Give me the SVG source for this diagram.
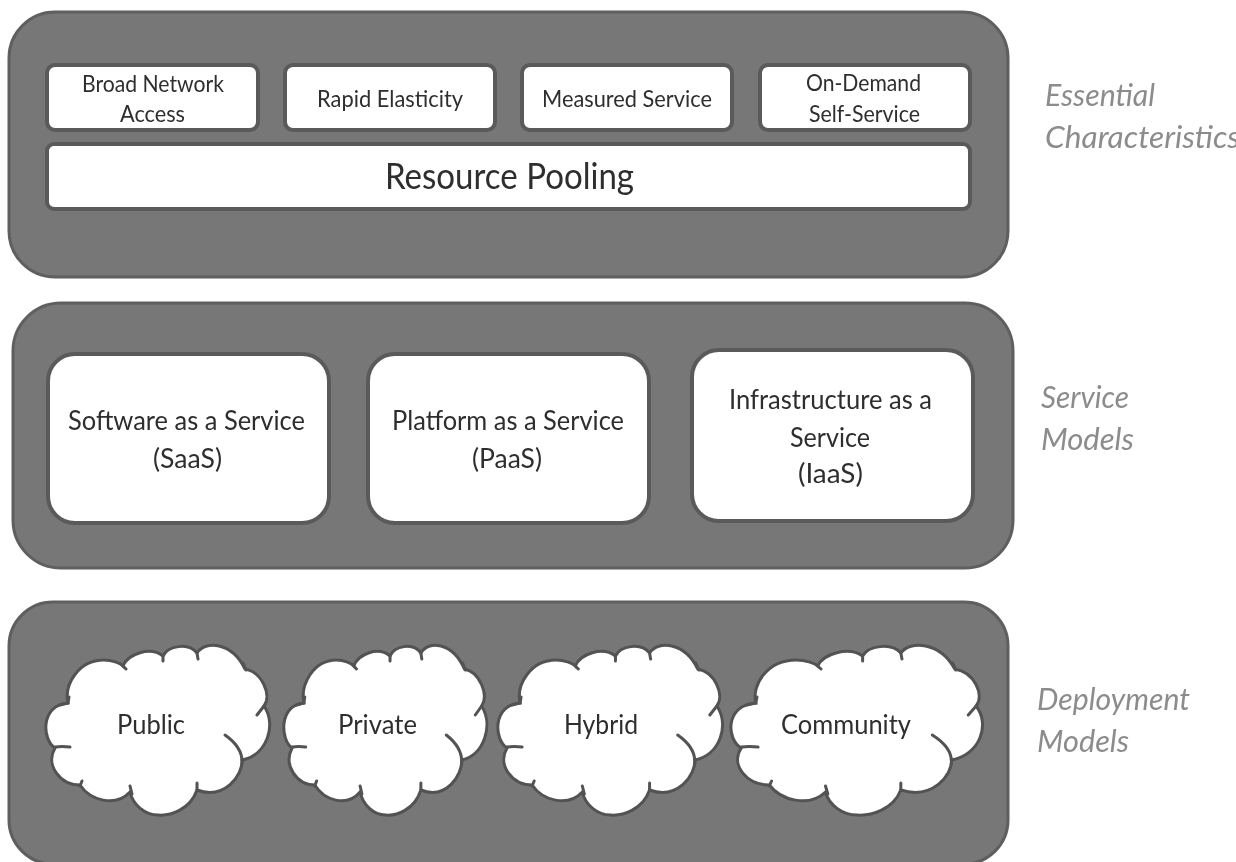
<svg xmlns="http://www.w3.org/2000/svg" xmlns:xlink="http://www.w3.org/1999/xlink" width="1236" height="862" viewBox="0 0 1236 862">
<style>
text{font-family:Lato,"Open Sans","Liberation Sans",sans-serif;text-anchor:start;fill:#2e2e2e}
.panel{fill:#777;stroke:#5f5f5f;stroke-width:3}
.box{fill:#fff;stroke:#5a5a5a;stroke-width:4}
.cl{fill:#fff;stroke:#525252;stroke-width:3;vector-effect:non-scaling-stroke}
.tail{fill:none;stroke:#525252;stroke-width:3;stroke-linecap:round;vector-effect:non-scaling-stroke}
.s{font-size:23px}.m{font-size:27px}.l{font-size:36px}.c{font-size:27px}
.side{font-size:30px;font-style:italic;fill:#8c8c8c}
.soft{filter:url(#soft)}
</style>
<defs>
<filter id="soft" filterUnits="userSpaceOnUse" x="0" y="0" width="1236" height="862"><feGaussianBlur stdDeviation="0.6"/></filter>
<g id="cloud">
<path class="cl" d="M68 703C64 685 78 660 104 660C112 660 120 663 123 666C128 654 150 646 163 656C168 646 188 642 197 653C205 640 232 642 245 669C262 672 272 695 264 706C277 725 267 755 242 760C243 775 225 800 197 790C190 810 170 816 158 815C145 815 133 805 130 792C115 808 90 800 80 785C60 785 45 765 55 748C42 740 40 705 68 703Z"/>
<path class="tail" d="M60 705L68 703L69 697M55 747Q62 746 70 747M123 666L126 669M163 656V661M197 653L198 659M243 663L246 670M264 706L257 715M225 735C235 742 243 752 242 764M197 783V790M130 786L132 794M82 781L80 786"/>
</g>
</defs>
<rect width="1236" height="862" fill="#fff"/>
<g class="soft">
<g id="panel-essential">
<rect class="panel" x="9" y="12" width="999" height="265" rx="46"/>
<g id="broad-network-access"><rect class="box" x="47" y="65" width="211" height="65" rx="8"/><text class="s" x="82" y="92" textLength="142" lengthAdjust="spacingAndGlyphs">Broad Network</text><text class="s" x="120" y="122" textLength="65" lengthAdjust="spacingAndGlyphs">Access</text></g>
<g id="rapid-elasticity"><rect class="box" x="285" y="65" width="210" height="65" rx="8"/><text class="s" x="317" y="107" textLength="146" lengthAdjust="spacingAndGlyphs">Rapid Elasticity</text></g>
<g id="measured-service"><rect class="box" x="522" y="65" width="210" height="65" rx="8"/><text class="s" x="542" y="107" textLength="170" lengthAdjust="spacingAndGlyphs">Measured Service</text></g>
<g id="on-demand"><rect class="box" x="760" y="65" width="210" height="65" rx="8"/><text class="s" x="806" y="91" textLength="115" lengthAdjust="spacingAndGlyphs">On-Demand</text><text class="s" x="809" y="122" textLength="111" lengthAdjust="spacingAndGlyphs">Self-Service</text></g>
<g id="resource-pooling"><rect class="box" x="47" y="144" width="923" height="65" rx="7"/><text class="l" x="385" y="189" textLength="249" lengthAdjust="spacingAndGlyphs">Resource Pooling</text></g>
</g>
<g id="panel-service">
<rect class="panel" x="13" y="303" width="1000" height="265" rx="48"/>
<g id="saas"><rect class="box" x="48" y="354" width="281" height="169" rx="27"/><text class="m" x="68" y="430" textLength="237" lengthAdjust="spacingAndGlyphs">Software as a Service</text><text class="m" x="153" y="468" textLength="69" lengthAdjust="spacingAndGlyphs">(SaaS)</text></g>
<g id="paas"><rect class="box" x="368" y="354" width="281" height="169" rx="27"/><text class="m" x="392" y="430" textLength="232" lengthAdjust="spacingAndGlyphs">Platform as a Service</text><text class="m" x="472" y="468" textLength="70" lengthAdjust="spacingAndGlyphs">(PaaS)</text></g>
<g id="iaas"><rect class="box" x="692" y="350" width="281" height="171" rx="27"/><text class="m" x="729" y="409" textLength="203" lengthAdjust="spacingAndGlyphs">Infrastructure as a</text><text class="m" x="790" y="447" textLength="80" lengthAdjust="spacingAndGlyphs">Service</text><text class="m" x="798" y="483" textLength="65" lengthAdjust="spacingAndGlyphs">(IaaS)</text></g>
</g>
<g id="panel-deployment">
<rect class="panel" x="9" y="602" width="999" height="262" rx="44"/>
<g id="public"><use xlink:href="#cloud" href="#cloud"/><text class="c" x="117" y="734" textLength="68" lengthAdjust="spacingAndGlyphs">Public</text></g>
<g id="private"><use xlink:href="#cloud" href="#cloud" transform="translate(242.2 0) scale(.907 1)"/><text class="c" x="338" y="734" textLength="79" lengthAdjust="spacingAndGlyphs">Private</text></g>
<g id="hybrid"><use xlink:href="#cloud" href="#cloud" transform="translate(451.8 0) scale(1.004 1)"/><text class="c" x="564" y="734" textLength="74" lengthAdjust="spacingAndGlyphs">Hybrid</text></g>
<g id="community"><use xlink:href="#cloud" href="#cloud" transform="translate(679.4 0) scale(1.124 1)"/><text class="c" x="781" y="734" textLength="130" lengthAdjust="spacingAndGlyphs">Community</text></g>
</g>
<g id="labels">
<text class="side" x="1045" y="106" textLength="110" lengthAdjust="spacingAndGlyphs">Essential</text>
<text class="side" x="1045" y="148" textLength="195" lengthAdjust="spacingAndGlyphs">Characteristics</text>
<text class="side" x="1041" y="408" textLength="88" lengthAdjust="spacingAndGlyphs">Service</text>
<text class="side" x="1041" y="450" textLength="93" lengthAdjust="spacingAndGlyphs">Models</text>
<text class="side" x="1037" y="710" textLength="153" lengthAdjust="spacingAndGlyphs">Deployment</text>
<text class="side" x="1037" y="752" textLength="92" lengthAdjust="spacingAndGlyphs">Models</text>
</g>
</g>
</svg>
